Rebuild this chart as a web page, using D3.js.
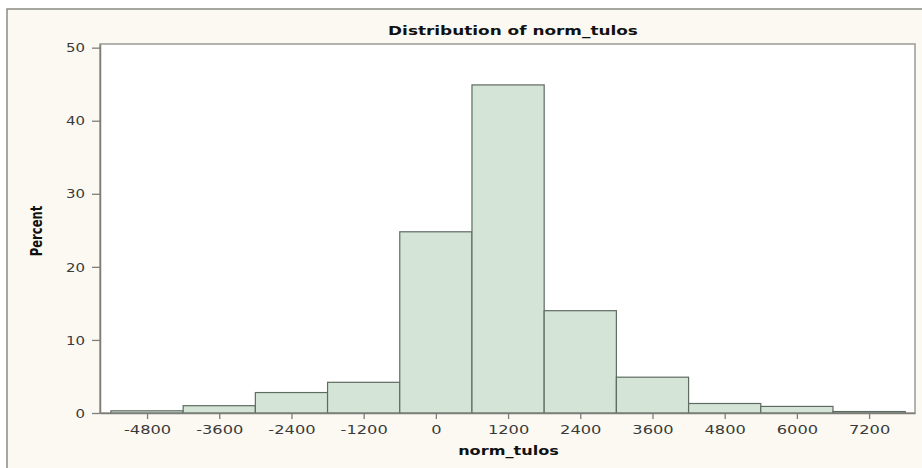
<!DOCTYPE html>
<html>
<head>
<meta charset="utf-8">
<script src="https://cdn.jsdelivr.net/npm/d3@7"></script>
<style>
  html, body { margin: 0; padding: 0; background: #ffffff; }
  svg { display: block; }
</style>
</head>
<body>
<svg id="chart" width="922" height="468"></svg>
<script>
// Histogram of norm_tulos: bin midpoints (bin width 1200) and percent of observations
const binMidpoints = [-4800, -3600, -2400, -1200, 0, 1200, 2400, 3600, 4800, 6000, 7200];
const percentValues = [0.3, 1.0, 2.8, 4.2, 24.8, 44.9, 14.0, 4.9, 1.3, 0.9, 0.2];
const binWidth = 1200;
const xTickValues = [-4800, -3600, -2400, -1200, 0, 1200, 2400, 3600, 4800, 6000, 7200];
const yTickValues = [0, 10, 20, 30, 40, 50];
const chartTitle = "Distribution of norm_tulos";
const xLabel = "norm_tulos";
const yLabel = "Percent";

const svg = d3.select("#chart");
const W = 922, H = 468;
const plot = { left: 100, top: 44, right: 915, bottom: 413 };
const stretch = 1.3; // horizontal widening of all lettering
const font = "'DejaVu Sans', Verdana, sans-serif";

// page background and outer frame
svg.append("rect").attr("x", 0).attr("y", 0).attr("width", W).attr("height", H).attr("fill", "#ffffff");
svg.append("rect")
  .attr("x", 7).attr("y", 9).attr("width", W + 20).attr("height", H + 20)
  .attr("fill", "#fbf9f2").attr("stroke", "#8a8a84").attr("stroke-width", 1.5);

// plot wall
svg.append("rect")
  .attr("x", plot.left).attr("y", plot.top)
  .attr("width", plot.right - plot.left).attr("height", plot.bottom - plot.top)
  .attr("fill", "#ffffff").attr("stroke", "#9a9a96").attr("stroke-width", 1.5);

const x = d3.scaleLinear().domain([-5582, 7963]).range([plot.left, plot.right]);
const y = d3.scaleLinear().domain([0, 50.5]).range([plot.bottom, plot.top]);

// bars
const bins = binMidpoints.map((m, i) => ({ x0: m - binWidth / 2, x1: m + binWidth / 2, pct: percentValues[i] }));
svg.append("g").selectAll("rect").data(bins).join("rect")
  .attr("x", d => x(d.x0))
  .attr("y", d => y(d.pct))
  .attr("width", d => x(d.x1) - x(d.x0))
  .attr("height", d => y(0) - y(d.pct))
  .attr("fill", "#d4e5d7")
  .attr("stroke", "#5f6b61")
  .attr("stroke-width", 1.2);

// x axis
const xAxis = svg.append("g")
  .attr("transform", `translate(0,${plot.bottom})`)
  .call(d3.axisBottom(x).tickValues(xTickValues).tickSize(6).tickSizeOuter(0));
xAxis.select(".domain").attr("stroke", "#7d7d7a").attr("stroke-width", 1.5);
xAxis.selectAll(".tick line").attr("stroke", "#7d7d7a").attr("stroke-width", 1.3);
xAxis.selectAll(".tick text")
  .attr("y", 21.5).attr("dy", 0)
  .attr("transform", `scale(${stretch},1)`)
  .attr("fill", "#3a3a3a")
  .style("font-family", font).style("font-size", "12.5px")
  .text(d => String(d));

// y axis
const yAxis = svg.append("g")
  .attr("transform", `translate(${plot.left},0)`)
  .call(d3.axisLeft(y).tickValues(yTickValues).tickSize(8).tickSizeOuter(0));
yAxis.select(".domain").attr("stroke", "#7d7d7a").attr("stroke-width", 1.5);
yAxis.selectAll(".tick line").attr("stroke", "#7d7d7a").attr("stroke-width", 1.3);
yAxis.selectAll(".tick text")
  .attr("x", 0).attr("dy", "0.36em")
  .attr("text-anchor", "end")
  .attr("transform", `translate(-15,0) scale(${stretch},1)`)
  .attr("fill", "#3a3a3a")
  .style("font-family", font).style("font-size", "11.5px");

// title
svg.append("text")
  .attr("transform", `translate(513,35) scale(${stretch},1)`)
  .attr("text-anchor", "middle")
  .style("font-family", font).style("font-size", "13px").style("font-weight", "bold")
  .attr("fill", "#111")
  .text(chartTitle);

// x label
svg.append("text")
  .attr("transform", `translate(508.5,455) scale(${stretch},1)`)
  .attr("text-anchor", "middle")
  .style("font-family", font).style("font-size", "12.4px").style("font-weight", "bold")
  .attr("fill", "#111")
  .text(xLabel);

// y label
svg.append("text")
  .attr("transform", `translate(41.5,231) scale(${stretch},1) rotate(-90)`)
  .attr("text-anchor", "middle")
  .style("font-family", font).style("font-size", "11.6px").style("font-weight", "bold")
  .attr("fill", "#111")
  .text(yLabel);
</script>
</body>
</html>
